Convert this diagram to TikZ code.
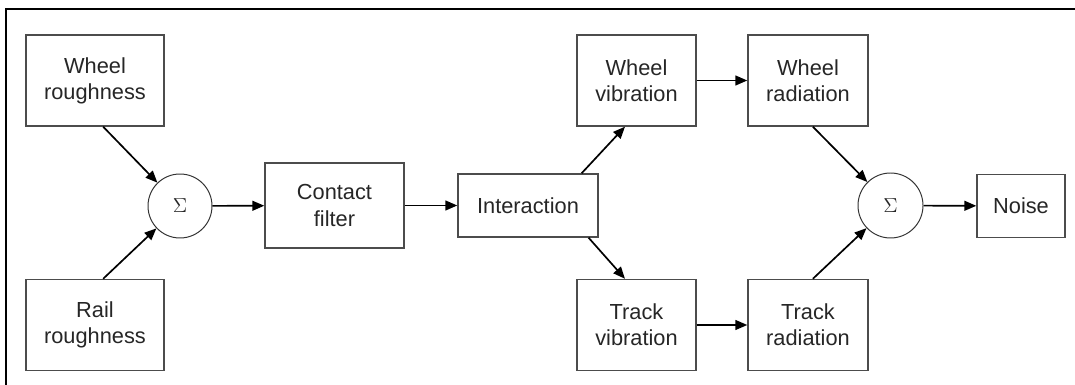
\documentclass[tikz,border=0pt]{standalone}
\usepackage{fontspec}
\setmainfont{Liberation Sans}
\usetikzlibrary{arrows.meta}

\tikzset{
  blk/.style={draw=black!70, line width=1pt, minimum width=#1, inner sep=0pt,
    align=center, font=\fontsize{15.5}{18.5}\selectfont, text=black!85},
  blk/.default=3.45cm,
  sumcirc/.style={draw=black!80, line width=0.7pt, circle, minimum size=1.6cm, inner sep=0pt,
    font=\fontsize{14}{16}\selectfont, text=black!85},
  conn/.style={line width=1.2pt, -{Triangle[length=8.5pt,width=7pt]}}
}

\begin{document}
\begin{tikzpicture}
  \useasboundingbox (0,0) rectangle (26.875,-9.625);
  % frame (only top and left edge are visible)
  \draw[line width=1.4pt] (0.15,-9.625) -- (0.15,-0.225) -- (26.875,-0.225);

  \node[blk, minimum height=2.275cm] (wr) at (2.375,-2.0125) {Wheel\\roughness};
  \node[blk, minimum height=2.275cm] (rr) at (2.375,-8.125) {Rail\\roughness};
  \node[sumcirc] (s1) at (4.5,-5.15) {$\Sigma$};
  \node[blk=3.475cm, minimum height=2.125cm] (cf) at (8.3625,-5.1375) {Contact\\filter};
  \node[blk=3.5cm, minimum height=1.575cm] (ia) at (13.2,-5.1375) {Interaction};
  \node[blk=2.975cm, minimum height=2.275cm] (wv) at (15.9125,-2.0125) {Wheel\\vibration};
  \node[blk=2.975cm, minimum height=2.275cm] (tv) at (15.9125,-8.125) {Track\\vibration};
  \node[blk=3cm, minimum height=2.275cm] (wd) at (20.2,-2.0125) {Wheel\\radiation};
  \node[blk=3cm, minimum height=2.275cm] (td) at (20.2,-8.125) {Track\\radiation};
  \node[sumcirc, minimum size=1.625cm] (s2) at (22.2625,-5.1375) {$\Sigma$};
  \node[blk=2.2cm, minimum height=1.575cm] (ns) at (25.525,-5.15) {Noise};

  \draw[conn] (wr.-80) -- (s1);
  \draw[conn] (rr.80) -- (s1);
  \draw[conn] (s1) -- (cf);
  \draw[conn] (cf) -- (ia);
  \draw[conn] (ia.31) -- (wv.-104);
  \draw[conn] (ia.-28) -- (tv.104);
  \draw[conn] (wv) -- (wd);
  \draw[conn] (tv) -- (td);
  \draw[conn] (wd.-84) -- (s2);
  \draw[conn] (td.84) -- (s2);
  \draw[conn] (s2) -- (ns);
\end{tikzpicture}
\end{document}
